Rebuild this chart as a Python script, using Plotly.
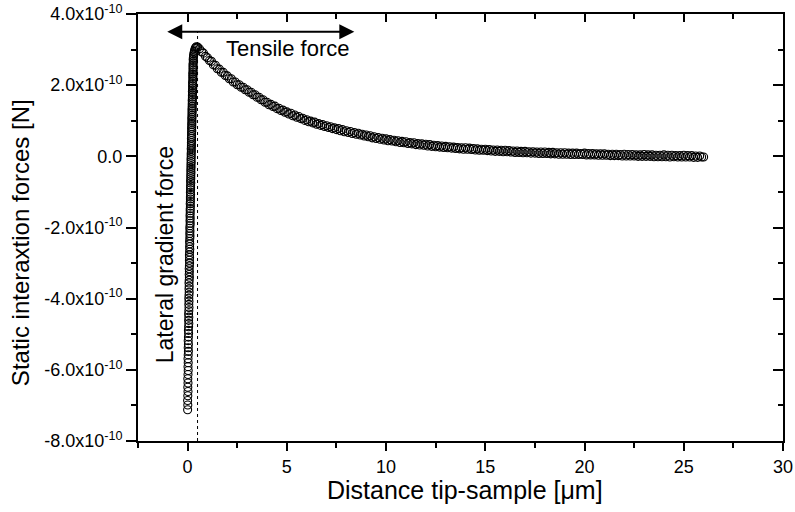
import plotly.graph_objects as go

# ---------------------------------------------------------------------------
# Measured data: static interaction force vs. tip-sample distance
# Forces are listed in units of 1e-10 N, distances in micrometres.
# ---------------------------------------------------------------------------

# Approach branch (steep rise close to contact)
rise_distance_um = [
    0.00, 0.01, 0.00, 0.01, 0.02, 0.01, 0.02, 0.01, 0.02, 0.03,
    0.02, 0.03, 0.02, 0.03, 0.04, 0.03, 0.04, 0.03, 0.04, 0.05,
    0.04, 0.05, 0.06, 0.05, 0.06, 0.05, 0.06, 0.07, 0.06, 0.07,
    0.06, 0.07, 0.08, 0.07, 0.08, 0.07, 0.08, 0.09, 0.08, 0.09,
    0.08, 0.09, 0.10, 0.09, 0.10, 0.09, 0.10, 0.11, 0.10, 0.11,
    0.10, 0.11, 0.12, 0.11, 0.12, 0.11, 0.12, 0.13, 0.12, 0.13,
    0.12, 0.13, 0.13, 0.13, 0.14, 0.13, 0.14, 0.14, 0.14, 0.15,
    0.14, 0.15, 0.15, 0.15, 0.16, 0.15, 0.16, 0.16, 0.16, 0.17,
    0.16, 0.17, 0.17, 0.17, 0.18, 0.17, 0.18, 0.18, 0.18, 0.19,
    0.18, 0.19, 0.19, 0.19, 0.20, 0.19, 0.20, 0.20, 0.20, 0.21,
    0.20, 0.21, 0.21, 0.21, 0.22, 0.21, 0.22, 0.22, 0.22, 0.23,
    0.22, 0.23, 0.23, 0.23, 0.24, 0.23, 0.24, 0.24, 0.24, 0.25,
    0.24, 0.25, 0.26, 0.25, 0.26, 0.25, 0.26, 0.27, 0.26, 0.27,
    0.26, 0.27, 0.28, 0.27, 0.28, 0.27, 0.28, 0.29, 0.28, 0.29,
    0.30, 0.31, 0.33, 0.34, 0.36, 0.38, 0.41, 0.44,
]
rise_force_e10 = [
    -7.12, -6.99, -6.86, -6.73, -6.61, -6.49, -6.37, -6.25, -6.13, -6.02,
    -5.91, -5.80, -5.69, -5.58, -5.48, -5.38, -5.28, -5.18, -5.08, -4.98,
    -4.89, -4.79, -4.70, -4.61, -4.52, -4.43, -4.34, -4.25, -4.16, -4.07,
    -3.99, -3.90, -3.82, -3.73, -3.65, -3.56, -3.48, -3.40, -3.32, -3.24,
    -3.16, -3.08, -3.00, -2.92, -2.84, -2.77, -2.69, -2.61, -2.54, -2.46,
    -2.39, -2.31, -2.24, -2.17, -2.10, -2.02, -1.95, -1.88, -1.81, -1.74,
    -1.67, -1.60, -1.53, -1.47, -1.40, -1.33, -1.27, -1.20, -1.14, -1.07,
    -1.01, -0.94, -0.88, -0.82, -0.75, -0.69, -0.63, -0.57, -0.51, -0.45,
    -0.39, -0.33, -0.27, -0.21, -0.15, -0.09, -0.03, 0.03, 0.09, 0.15,
    0.21, 0.27, 0.32, 0.38, 0.44, 0.50, 0.55, 0.61, 0.67, 0.72,
    0.78, 0.83, 0.89, 0.94, 0.99, 1.05, 1.10, 1.15, 1.21, 1.26,
    1.31, 1.36, 1.41, 1.47, 1.52, 1.57, 1.62, 1.67, 1.72, 1.77,
    1.82, 1.87, 1.92, 1.97, 2.02, 2.07, 2.12, 2.17, 2.22, 2.27,
    2.32, 2.37, 2.42, 2.47, 2.52, 2.57, 2.62, 2.67, 2.72, 2.77,
    2.82, 2.87, 2.91, 2.95, 2.99, 3.03, 3.06, 3.08,
]

# Retraction branch (tensile force decaying with distance)
tail_distance_um = [
    0.5, 0.6, 0.7, 0.8, 0.9,
    1.0, 1.1, 1.2, 1.3, 1.4, 1.5, 1.6, 1.7, 1.8, 1.9,
    2.0, 2.1, 2.2, 2.3, 2.4, 2.5, 2.6, 2.7, 2.8, 2.9,
    3.0, 3.1, 3.2, 3.3, 3.4, 3.5, 3.6, 3.7, 3.8, 3.9,
    4.0, 4.1, 4.2, 4.3, 4.4, 4.5, 4.6, 4.7, 4.8, 4.9,
    5.0, 5.1, 5.2, 5.3, 5.4, 5.5, 5.6, 5.7, 5.8, 5.9,
    6.0, 6.1, 6.2, 6.3, 6.4, 6.5, 6.6, 6.7, 6.8, 6.9,
    7.0, 7.1, 7.2, 7.3, 7.4, 7.5, 7.6, 7.7, 7.8, 7.9,
    8.0, 8.1, 8.2, 8.3, 8.4, 8.5, 8.6, 8.7, 8.8, 8.9,
    9.0, 9.1, 9.2, 9.3, 9.4, 9.5, 9.6, 9.7, 9.8, 9.9,
    10.0, 10.1, 10.2, 10.3, 10.4, 10.5, 10.6, 10.7, 10.8, 10.9,
    11.0, 11.1, 11.2, 11.3, 11.4, 11.5, 11.6, 11.7, 11.8, 11.9,
    12.0, 12.1, 12.2, 12.3, 12.4, 12.5, 12.6, 12.7, 12.8, 12.9,
    13.0, 13.1, 13.2, 13.3, 13.4, 13.5, 13.6, 13.7, 13.8, 13.9,
    14.0, 14.1, 14.2, 14.3, 14.4, 14.5, 14.6, 14.7, 14.8, 14.9,
    15.0, 15.1, 15.2, 15.3, 15.4, 15.5, 15.6, 15.7, 15.8, 15.9,
    16.0, 16.1, 16.2, 16.3, 16.4, 16.5, 16.6, 16.7, 16.8, 16.9,
    17.0, 17.1, 17.2, 17.3, 17.4, 17.5, 17.6, 17.7, 17.8, 17.9,
    18.0, 18.1, 18.2, 18.3, 18.4, 18.5, 18.6, 18.7, 18.8, 18.9,
    19.0, 19.1, 19.2, 19.3, 19.4, 19.5, 19.6, 19.7, 19.8, 19.9,
    20.0, 20.1, 20.2, 20.3, 20.4, 20.5, 20.6, 20.7, 20.8, 20.9,
    21.0, 21.1, 21.2, 21.3, 21.4, 21.5, 21.6, 21.7, 21.8, 21.9,
    22.0, 22.1, 22.2, 22.3, 22.4, 22.5, 22.6, 22.7, 22.8, 22.9,
    23.0, 23.1, 23.2, 23.3, 23.4, 23.5, 23.6, 23.7, 23.8, 23.9,
    24.0, 24.1, 24.2, 24.3, 24.4, 24.5, 24.6, 24.7, 24.8, 24.9,
    25.0, 25.1, 25.2, 25.3, 25.4, 25.5, 25.6, 25.7, 25.8, 25.9,
    26.0,
]
tail_force_e10 = [
    3.07, 3.02, 2.94, 2.90, 2.81,
    2.77, 2.69, 2.67, 2.57, 2.56, 2.46, 2.45, 2.36, 2.36, 2.27,
    2.26, 2.18, 2.18, 2.09, 2.09, 2.01, 2.01, 1.94, 1.94, 1.87,
    1.87, 1.80, 1.80, 1.73, 1.73, 1.66, 1.66, 1.59, 1.59, 1.52,
    1.52, 1.45, 1.46, 1.40, 1.41, 1.34, 1.35, 1.29, 1.30, 1.24,
    1.25, 1.19, 1.21, 1.14, 1.16, 1.10, 1.12, 1.06, 1.07, 1.01,
    1.03, 0.97, 0.99, 0.94, 0.96, 0.90, 0.92, 0.87, 0.89, 0.84,
    0.86, 0.81, 0.83, 0.78, 0.80, 0.75, 0.78, 0.72, 0.75, 0.69,
    0.72, 0.67, 0.70, 0.64, 0.67, 0.62, 0.65, 0.60, 0.62, 0.57,
    0.60, 0.55, 0.58, 0.52, 0.55, 0.50, 0.53, 0.48, 0.51, 0.46,
    0.49, 0.44, 0.47, 0.43, 0.45, 0.41, 0.44, 0.39, 0.42, 0.38,
    0.41, 0.36, 0.39, 0.35, 0.38, 0.33, 0.36, 0.32, 0.35, 0.31,
    0.34, 0.29, 0.33, 0.28, 0.31, 0.27, 0.30, 0.26, 0.29, 0.25,
    0.28, 0.24, 0.27, 0.23, 0.26, 0.22, 0.25, 0.21, 0.24, 0.20,
    0.24, 0.20, 0.23, 0.19, 0.22, 0.18, 0.21, 0.17, 0.20, 0.17,
    0.20, 0.16, 0.19, 0.15, 0.18, 0.14, 0.18, 0.14, 0.17, 0.13,
    0.17, 0.13, 0.16, 0.12, 0.15, 0.11, 0.15, 0.11, 0.14, 0.10,
    0.14, 0.10, 0.13, 0.09, 0.13, 0.09, 0.12, 0.08, 0.12, 0.08,
    0.12, 0.08, 0.11, 0.07, 0.11, 0.07, 0.10, 0.06, 0.10, 0.06,
    0.10, 0.06, 0.09, 0.05, 0.09, 0.05, 0.09, 0.05, 0.08, 0.05,
    0.09, 0.04, 0.08, 0.04, 0.08, 0.04, 0.07, 0.03, 0.07, 0.03,
    0.07, 0.03, 0.06, 0.02, 0.06, 0.02, 0.06, 0.02, 0.05, 0.01,
    0.06, 0.01, 0.05, 0.01, 0.05, 0.01, 0.04, 0.00, 0.04, 0.00,
    0.05, 0.00, 0.04, 0.00, 0.04, -0.01, 0.03, -0.01, 0.03, -0.01,
    0.04, -0.01, 0.03, -0.02, 0.03, -0.01, 0.02, -0.02, 0.02, -0.02,
    0.03, -0.02, 0.02, -0.02, 0.02, -0.03, 0.01, -0.03, 0.01, -0.02,
    -0.02,
]

# Axis ticks
x_major_ticks = [0, 5, 10, 15, 20, 25, 30]
y_major_e10 = [-8, -6, -4, -2, 0, 2, 4]
y_tick_labels = [
    "-8.0x10<sup>-10</sup>", "-6.0x10<sup>-10</sup>", "-4.0x10<sup>-10</sup>",
    "-2.0x10<sup>-10</sup>", "0.0", "2.0x10<sup>-10</sup>", "4.0x10<sup>-10</sup>",
]

# Annotation positions (data units)
contact_distance_um = 0.5
arrow_level_e10 = 3.5
arrow_span_um = [-1.1, 8.4]

SCALE = 1e-10
FONT = "Arial, Liberation Sans, sans-serif"
X_RANGE = [-2.5, 30]
Y_RANGE = [-8e-10, 4e-10]

distance = rise_distance_um + tail_distance_um
force = [v * SCALE for v in rise_force_e10 + tail_force_e10]

fig = go.Figure()

fig.add_trace(go.Scatter(
    x=distance, y=force, mode="markers",
    marker=dict(symbol="circle-open", size=8, color="black",
                line=dict(color="black", width=1.1)),
    showlegend=False, hoverinfo="x+y",
))

# empty trace that carries the mirrored top/right axes
fig.add_trace(go.Scatter(x=[], y=[], xaxis="x2", yaxis="y2",
                         showlegend=False, hoverinfo="skip"))

tick_font = dict(family=FONT, size=18, color="black")

fig.update_layout(
    width=795, height=512,
    margin=dict(l=138, r=12, t=14, b=71, autoexpand=False),
    paper_bgcolor="white", plot_bgcolor="white",
    font=dict(family=FONT, color="black"),
    xaxis=dict(
        range=X_RANGE, showgrid=False, zeroline=False, automargin=False,
        showline=True, linewidth=2, linecolor="black",
        ticks="outside", ticklen=8, tickwidth=1.5, tickcolor="black",
        tickmode="array", tickvals=x_major_ticks, tickfont=tick_font,
        minor=dict(ticks="outside", ticklen=5, tickwidth=1.5,
                   tickcolor="black", dtick=2.5, tick0=0, showgrid=False),
    ),
    yaxis=dict(
        range=Y_RANGE, showgrid=False, zeroline=False, automargin=False,
        showline=True, linewidth=2, linecolor="black",
        ticks="outside", ticklen=10, tickwidth=1.5, tickcolor="black",
        tickmode="array", tickvals=[v * SCALE for v in y_major_e10],
        ticktext=y_tick_labels, tickfont=tick_font,
        minor=dict(ticks="outside", ticklen=5, tickwidth=1.5,
                   tickcolor="black", dtick=1e-10, tick0=0, showgrid=False),
    ),
    xaxis2=dict(
        overlaying="x", side="top", anchor="y2", range=X_RANGE,
        showgrid=False, zeroline=False, automargin=False,
        showline=True, linewidth=2, linecolor="black",
        ticks="inside", ticklen=8, tickwidth=1.5, tickcolor="black",
        tickmode="array", tickvals=x_major_ticks, showticklabels=False,
        minor=dict(ticks="inside", ticklen=5, tickwidth=1.5,
                   tickcolor="black", dtick=2.5, tick0=0, showgrid=False),
    ),
    yaxis2=dict(
        overlaying="y", side="right", anchor="x2", range=Y_RANGE,
        showgrid=False, zeroline=False, automargin=False,
        showline=True, linewidth=2, linecolor="black",
        ticks="inside", ticklen=10, tickwidth=1.5, tickcolor="black",
        tickmode="array", tickvals=[v * SCALE for v in y_major_e10],
        showticklabels=False,
        minor=dict(ticks="inside", ticklen=5, tickwidth=1.5,
                   tickcolor="black", dtick=1e-10, tick0=0, showgrid=False),
    ),
)

# dotted marker of the contact position
fig.add_shape(
    type="line", xref="x", yref="y",
    x0=contact_distance_um, x1=contact_distance_um,
    y0=Y_RANGE[0], y1=arrow_level_e10 * SCALE,
    line=dict(color="black", width=1, dash="dot"), layer="below",
)

# double-headed arrow spanning the tensile region
fig.add_annotation(
    xref="x", yref="y", axref="x", ayref="y",
    x=arrow_span_um[1], y=arrow_level_e10 * SCALE,
    ax=arrow_span_um[0], ay=arrow_level_e10 * SCALE,
    text="", showarrow=True, arrowside="end+start",
    arrowhead=2, startarrowhead=2, arrowsize=1.5, startarrowsize=1.5,
    arrowwidth=2, arrowcolor="black",
)

fig.add_annotation(
    xref="x", yref="y", x=5.07, y=3.02e-10,
    text="Tensile force", showarrow=False,
    font=dict(family=FONT, size=22, color="black"),
    xanchor="center", yanchor="middle",
)

fig.add_annotation(
    xref="x", yref="y", x=-1.12, y=-2.77e-10,
    text="Lateral gradient force", showarrow=False, textangle=-90,
    font=dict(family=FONT, size=23, color="black"),
    xanchor="center", yanchor="middle",
)

# axis titles
fig.add_annotation(
    xref="paper", yref="paper", x=0.507, y=-0.115,
    text="Distance tip-sample [μm]", showarrow=False,
    font=dict(family=FONT, size=25, color="black"),
    xanchor="center", yanchor="middle",
)
fig.add_annotation(
    xref="paper", yref="paper", x=-0.181, y=0.464,
    text="Static interaxtion forces [N]", showarrow=False, textangle=-90,
    font=dict(family=FONT, size=24, color="black"),
    xanchor="center", yanchor="middle",
)

fig.write_html("out.html")
